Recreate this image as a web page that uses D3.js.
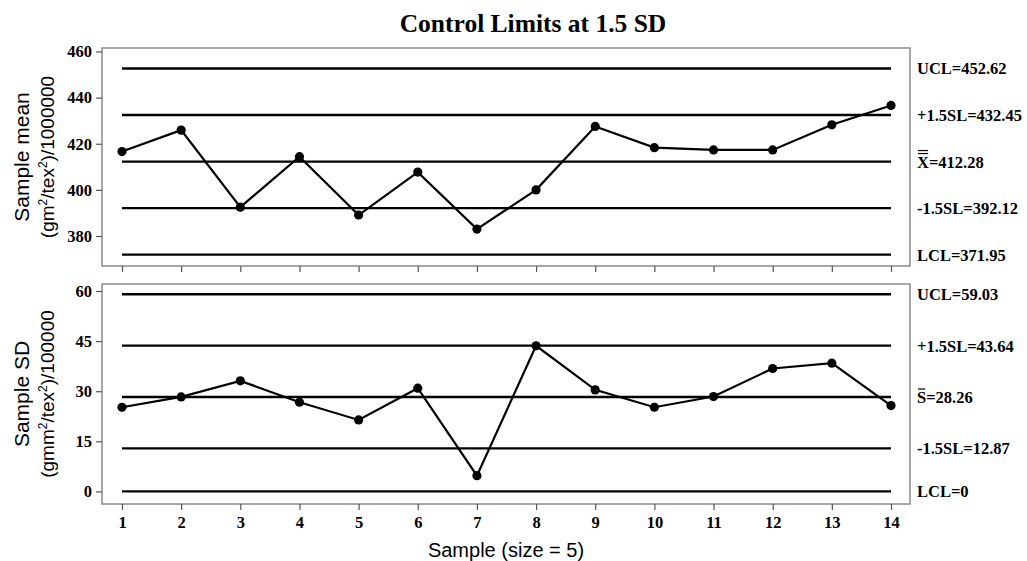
<!DOCTYPE html>
<html>
<head>
<meta charset="utf-8">
<script src="https://cdn.jsdelivr.net/npm/d3@7"></script>
<style>
  body { margin: 0; background: #fff; }
</style>
</head>
<body>
<div id="chart"></div>
<script>
const samples = [1, 2, 3, 4, 5, 6, 7, 8, 9, 10, 11, 12, 13, 14];
const sampleMeans = [416.6, 425.9, 392.5, 414.4, 389.1, 407.7, 383.0, 400.0, 427.5, 418.3, 417.3, 417.3, 428.2, 436.6];
const sampleSDs = [25.2, 28.3, 33.1, 26.7, 21.4, 30.9, 4.7, 43.6, 30.4, 25.2, 28.4, 36.8, 38.4, 25.7];

const meanLimits = [452.62, 432.45, 412.28, 392.12, 371.95];
const meanLimitLabels = ["UCL=452.62", "+1.5SL=432.45", "X=412.28", "-1.5SL=392.12", "LCL=371.95"];
const sdLimits = [59.03, 43.64, 28.26, 12.87, 0];
const sdLimitLabels = ["UCL=59.03", "+1.5SL=43.64", "S=28.26", "-1.5SL=12.87", "LCL=0"];

const meanTicks = [380, 400, 420, 440, 460];
const sdTicks = [0, 15, 30, 45, 60];

const width = 1027, height = 561;
const left = 102, right = 910;
const serif = "'Liberation Serif', 'Times New Roman', serif";
const sans = "'Liberation Sans', Arial, sans-serif";

const svg = d3.select("#chart").append("svg")
    .attr("width", width)
    .attr("height", height);

svg.append("text")
    .attr("x", 533).attr("y", 32)
    .attr("text-anchor", "middle")
    .style("font-family", serif)
    .style("font-weight", "bold")
    .style("font-size", "25.5px")
    .text("Control Limits at 1.5 SD");

const x = d3.scaleLinear().domain([1, 14]).range([122, 891]);

function panel(opts) {
    const y = d3.scaleLinear().domain(opts.domain).range([opts.bottom, opts.top]);
    const g = svg.append("g");

    // frame
    g.append("rect")
        .attr("x", left).attr("y", opts.top)
        .attr("width", right - left).attr("height", opts.bottom - opts.top)
        .attr("fill", "none").attr("stroke", "#8a8a8a").attr("stroke-width", 1.5);

    const yAxis = g.append("g")
        .attr("transform", `translate(${left},0)`)
        .call(d3.axisLeft(y).tickValues(opts.ticks).tickSize(6).tickPadding(4));
    yAxis.select(".domain").remove();

    const xAxis = g.append("g")
        .attr("transform", `translate(0,${opts.bottom})`)
        .call(d3.axisBottom(x).tickValues(samples).tickSize(6).tickPadding(6)
            .tickFormat(opts.showX ? d3.format("d") : ""));
    xAxis.select(".domain").remove();

    [yAxis, xAxis].forEach(a => {
        a.selectAll(".tick line").attr("stroke", "#555").attr("stroke-width", 1.2);
        a.selectAll("text")
            .attr("fill", "#000")
            .style("font-family", serif)
            .style("font-weight", "bold")
            .style("font-size", "16.5px");
    });

    // control lines
    g.selectAll(".limit")
        .data(opts.limits)
        .enter().append("line")
        .attr("x1", x(1)).attr("x2", x(14))
        .attr("y1", d => y(d)).attr("y2", d => y(d))
        .attr("stroke", "#000").attr("stroke-width", 2.3);

    const labels = g.selectAll(".lab")
        .data(opts.limits)
        .enter().append("text")
        .attr("x", 917)
        .attr("y", d => y(d) + 6)
        .style("font-family", serif)
        .style("font-weight", "bold")
        .style("font-size", "16.5px")
        .text((d, i) => opts.labels[i]);

    // bars over the centre-line symbol
    const centre = labels.filter((d, i) => i === 2);
    const w = centre.node().getSubStringLength(0, 1);
    const by = y(opts.limits[2]) + 6;
    for (let k = 0; k < opts.bars; k++) {
        g.append("line")
            .attr("x1", 918).attr("x2", 917 + w - 1)
            .attr("y1", by - 14 - k * 3).attr("y2", by - 14 - k * 3)
            .attr("stroke", "#000").attr("stroke-width", 1.2);
    }

    const line = d3.line().x((d, i) => x(samples[i])).y(d => y(d));
    g.append("path")
        .datum(opts.values)
        .attr("d", line)
        .attr("fill", "none").attr("stroke", "#000").attr("stroke-width", 2.2);

    g.selectAll(".pt")
        .data(opts.values)
        .enter().append("circle")
        .attr("cx", (d, i) => x(samples[i]))
        .attr("cy", d => y(d))
        .attr("r", 4.6)
        .attr("fill", "#000");

    // y label, two lines
    const cy = (opts.top + opts.bottom) / 2;
    svg.append("text")
        .attr("transform", `translate(29,${cy}) rotate(-90)`)
        .attr("text-anchor", "middle")
        .style("font-family", sans).style("font-size", "21px")
        .text(opts.title);
    const t2 = svg.append("text")
        .attr("transform", `translate(54,${cy}) rotate(-90)`)
        .attr("text-anchor", "middle")
        .style("font-family", sans).style("font-size", "19px");
    opts.unit.forEach(p => {
        const ts = t2.append("tspan").text(p[0]);
        if (p[1]) ts.attr("baseline-shift", "super").style("font-size", "12px");
    });
}

panel({
    top: 48, bottom: 266,
    domain: [367.0, 461.5],
    ticks: meanTicks,
    limits: meanLimits,
    labels: meanLimitLabels,
    values: sampleMeans,
    bars: 2,
    showX: false,
    title: "Sample mean",
    unit: [["(gm"], ["2", true], ["/tex"], ["2", true], [")/1000000"]]
});

panel({
    top: 284, bottom: 504,
    domain: [-3.77, 62.1],
    ticks: sdTicks,
    limits: sdLimits,
    labels: sdLimitLabels,
    values: sampleSDs,
    bars: 1,
    showX: true,
    title: "Sample SD",
    unit: [["(gmm"], ["2", true], ["/tex"], ["2", true], [")/100000"]]
});

svg.append("text")
    .attr("x", 506).attr("y", 557)
    .attr("text-anchor", "middle")
    .style("font-family", sans).style("font-size", "20px")
    .text("Sample (size = 5)");
</script>
</body>
</html>
